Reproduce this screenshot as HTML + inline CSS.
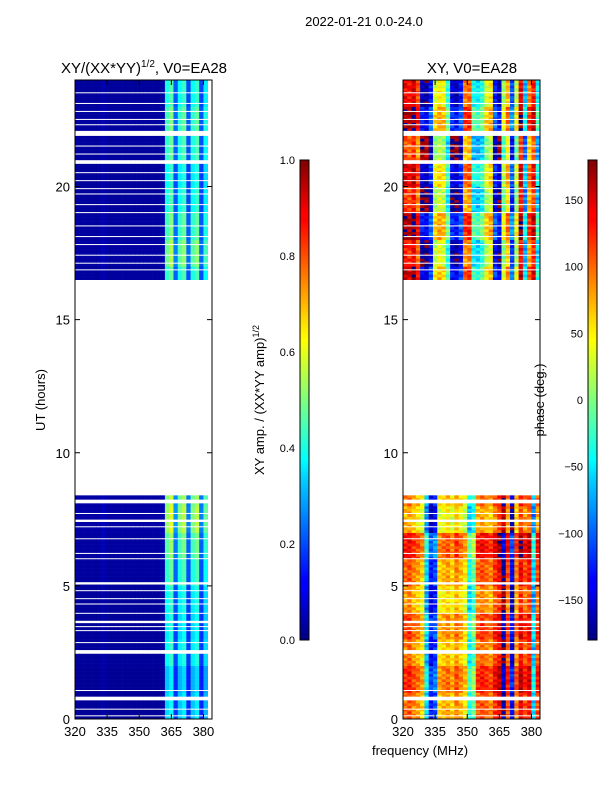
<!DOCTYPE html>
<html><head><meta charset="utf-8"><style>
body{margin:0;background:#fff;}
svg text{font-family:"Liberation Sans",sans-serif;fill:#000;}
</style></head><body>
<svg id="fig" width="600" height="800" xmlns="http://www.w3.org/2000/svg">
<defs>
<linearGradient id="jet" x1="0" y1="1" x2="0" y2="0">
<stop offset="0" stop-color="#00007f"/><stop offset="0.11" stop-color="#0000ff"/><stop offset="0.125" stop-color="#0000ff"/>
<stop offset="0.34" stop-color="#00d4ff"/><stop offset="0.375" stop-color="#0ff"/><stop offset="0.5" stop-color="#7fff7f"/>
<stop offset="0.625" stop-color="#ff0"/><stop offset="0.66" stop-color="#ffe000"/><stop offset="0.875" stop-color="#f00"/><stop offset="0.89" stop-color="#f00"/><stop offset="1" stop-color="#7f0000"/>
</linearGradient>
</defs>
<text x="364" y="26" font-size="13" text-anchor="middle">2022-01-21 0.0-24.0</text>
<text x="144" y="73" font-size="15" text-anchor="middle">XY/(XX*YY)<tspan font-size="10" dy="-6">1/2</tspan><tspan dy="6">, V0=EA28</tspan></text>
<text x="472" y="73" font-size="15" text-anchor="middle">XY, V0=EA28</text>
<g id="left-cells"></g>
<g id="right-cells"></g>
<g id="axes"></g>
<text transform="translate(45,400) rotate(-90)" font-size="13" text-anchor="middle">UT (hours)</text>
<text x="420" y="755" font-size="13" text-anchor="middle">frequency (MHz)</text>
<rect x="300" y="160" width="9" height="480" fill="url(#jet)" stroke="#000" stroke-width="1"/>
<rect x="588" y="160" width="9" height="480" fill="url(#jet)" stroke="#000" stroke-width="1"/>
<text transform="translate(264,400) rotate(-90)" font-size="13" text-anchor="middle">XY amp. / (XX*YY amp)<tspan font-size="9" dy="-5">1/2</tspan></text>
<text transform="translate(544,400) rotate(-90)" font-size="13" text-anchor="middle">phase (deg.)</text>
</svg>
<script>
// ---- data ----
const freqChannels = [320,322,324,326,328,330,332,334,336,338,340,342,344,346,348,350,352,354,356,358,360,362,364,366,368,370,372,374,376,378,380,382];
const dataSegments = [[0,8.4],[16.5,24]];
const flaggedHours = [0.1,0.37,0.7,0.75,0.8,1.09,2.48,2.53,2.58,2.85,3.3,3.45,3.6,3.65,3.97,4.3,4.53,4.8,5.05,5.1,6.0,6.2,6.75,7.2,7.42,7.47,7.72,8.12,8.17,8.22,
  16.85,17.1,17.4,17.8,18.1,18.5,19.0,19.3,19.7,19.9,20.2,20.5,20.85,20.9,20.95,21.2,21.5,21.9,21.95,22.0,22.05,22.3,22.5,22.8,23.1,23.5];
const ampProfile = [0.03,0.03,0.03,0.03,0.03,0.03,0.05,0.03,0.03,0.03,0.03,0.03,0.03,0.03,0.03,0.03,0.03,0.03,0.03,0.03,0.04,0.42,0.48,0.22,0.4,0.45,0.2,0.4,0.45,0.2,0.38,0.0];
const ampHour = [0.8,0.75,0.9,0.85,0.9,1.0,1.1,1.25,1.2,1,1,1,1,1,1,1,1.0,1.15,1.05,0.95,0.9,1.0,1.05,0.95];
const phaseLow = [100,110,90,80,60,-60,-130,-110,60,70,80,60,90,70,50,-40,-10,100,110,100,90,120,140,-170,110,-140,90,140,110,130,-60,110];
const phaseHigh = [150,140,160,120,-150,-160,-120,40,60,50,-20,-140,-150,-120,100,110,-30,-40,-20,40,60,-120,-150,20,80,-100,30,150,-60,100,140,-40];
const phaseHour = [0,20,-10,10,-20,0,30,-30,-10,0,0,0,0,0,0,0,10,-20,20,-30,0,-40,20,-10];
const rowJitter = [0,10,-8,15,-12,5,-18,8,12,-10];
const yTicks = [0,5,10,15,20];
const xTicks = [320,335,350,365,380];
const ampTicks = [0.0,0.2,0.4,0.6,0.8,1.0];
const phaseTicks = [-150,-100,-50,0,50,100,150];
// ---- layout ----
const NS="http://www.w3.org/2000/svg";
const panels=[{x0:75,x1:212},{x0:403,x1:540}];
const yT=80,yB=719,tMin=0,tMax=24,fMin=320,fMax=384;
const yScale=t=>yB-(t-tMin)/(tMax-tMin)*(yB-yT);
const xScale=(p,f)=>p.x0+(f-fMin)/(fMax-fMin)*(p.x1-p.x0);
function jet(v){v=Math.max(0,Math.min(1,v));
 const r=Math.max(0,Math.min(1,1.5-Math.abs(4*v-3))),g=Math.max(0,Math.min(1,1.5-Math.abs(4*v-2))),b=Math.max(0,Math.min(1,1.5-Math.abs(4*v-1)));
 return `rgb(${Math.round(r*255)},${Math.round(g*255)},${Math.round(b*255)})`;}
function mk(tag,attrs,parent){const e=document.createElementNS(NS,tag);for(const k in attrs)e.setAttribute(k,attrs[k]);parent.appendChild(e);return e;}
const dt=0.05,df=2;
const flaggedRows=new Set(flaggedHours.map(h=>Math.floor(h/dt+1e-6)));
const gL=document.getElementById('left-cells'),gR=document.getElementById('right-cells');
for(let i=0;i<480;i++){
 const t=i*dt+dt/2;
 if(!dataSegments.some(s=>t>=s[0]&&t<=s[1]))continue;
 if(flaggedRows.has(i))continue;
 const h=Math.floor(t);
 const k=Math.floor(i/2);
 const y1=yScale(t+dt/2),y2=yScale(t-dt/2);
 freqChannels.forEach((f,j)=>{
  const a=ampProfile[j]*ampHour[h];
  if(ampProfile[j]>0){
   const r=mk('rect',{x:xScale(panels[0],f),y:y1,width:xScale(panels[0],f+df)-xScale(panels[0],f)+0.3,height:y2-y1+0.3,fill:jet(a)},gL);
   
   
  }
  const base=(t<12?phaseLow[j]:phaseHigh[j])+phaseHour[h]+rowJitter[(k+j)%10];
  const ph=((base+180)%360+360)%360-180;
  const r2=mk('rect',{x:xScale(panels[1],f),y:y1,width:xScale(panels[1],f+df)-xScale(panels[1],f)+0.3,height:y2-y1+0.3,fill:jet((ph+180)/360)},gR);
  
  
 });
}
const ax=document.getElementById('axes');
panels.forEach((p,k)=>{
 const fr=mk('rect',{x:p.x0,y:yT,width:p.x1-p.x0,height:yB-yT,fill:'none',stroke:'#000','stroke-width':1},ax);
 
 
 yTicks.forEach(v=>{const y=yScale(v);
  mk('line',{x1:p.x0,x2:p.x0+5,y1:y,y2:y,stroke:'#000'},ax);mk('line',{x1:p.x1-5,x2:p.x1,y1:y,y2:y,stroke:'#000'},ax);
  const tx=mk('text',{x:p.x0-5,y:y+5,'font-size':13,'text-anchor':'end'},ax);tx.textContent=v;
  
  });
 xTicks.forEach(v=>{const x=xScale(p,v);
  mk('line',{x1:x,x2:x,y1:yB,y2:yB-5,stroke:'#000'},ax);mk('line',{x1:x,x2:x,y1:yT,y2:yT+5,stroke:'#000'},ax);
  const tx=mk('text',{x:x,y:yB+17,'font-size':13,'text-anchor':'middle'},ax);tx.textContent=v;
  
  });
});
ampTicks.forEach(v=>{const y=640-v*480;
 mk('line',{x1:300,x2:303,y1:y,y2:y,stroke:'#000'},ax);
 const tx=mk('text',{x:295,y:y+4,'font-size':11,'text-anchor':'end'},ax);tx.textContent=v.toFixed(1);
 
 });
phaseTicks.forEach(v=>{const y=640-(v+180)/360*480;
 mk('line',{x1:588,x2:591,y1:y,y2:y,stroke:'#000'},ax);
 const tx=mk('text',{x:583,y:y+4,'font-size':11,'text-anchor':'end'},ax);tx.textContent=v<0?'\u2212'+(-v):v;
 
 });
</script>
</body></html>
